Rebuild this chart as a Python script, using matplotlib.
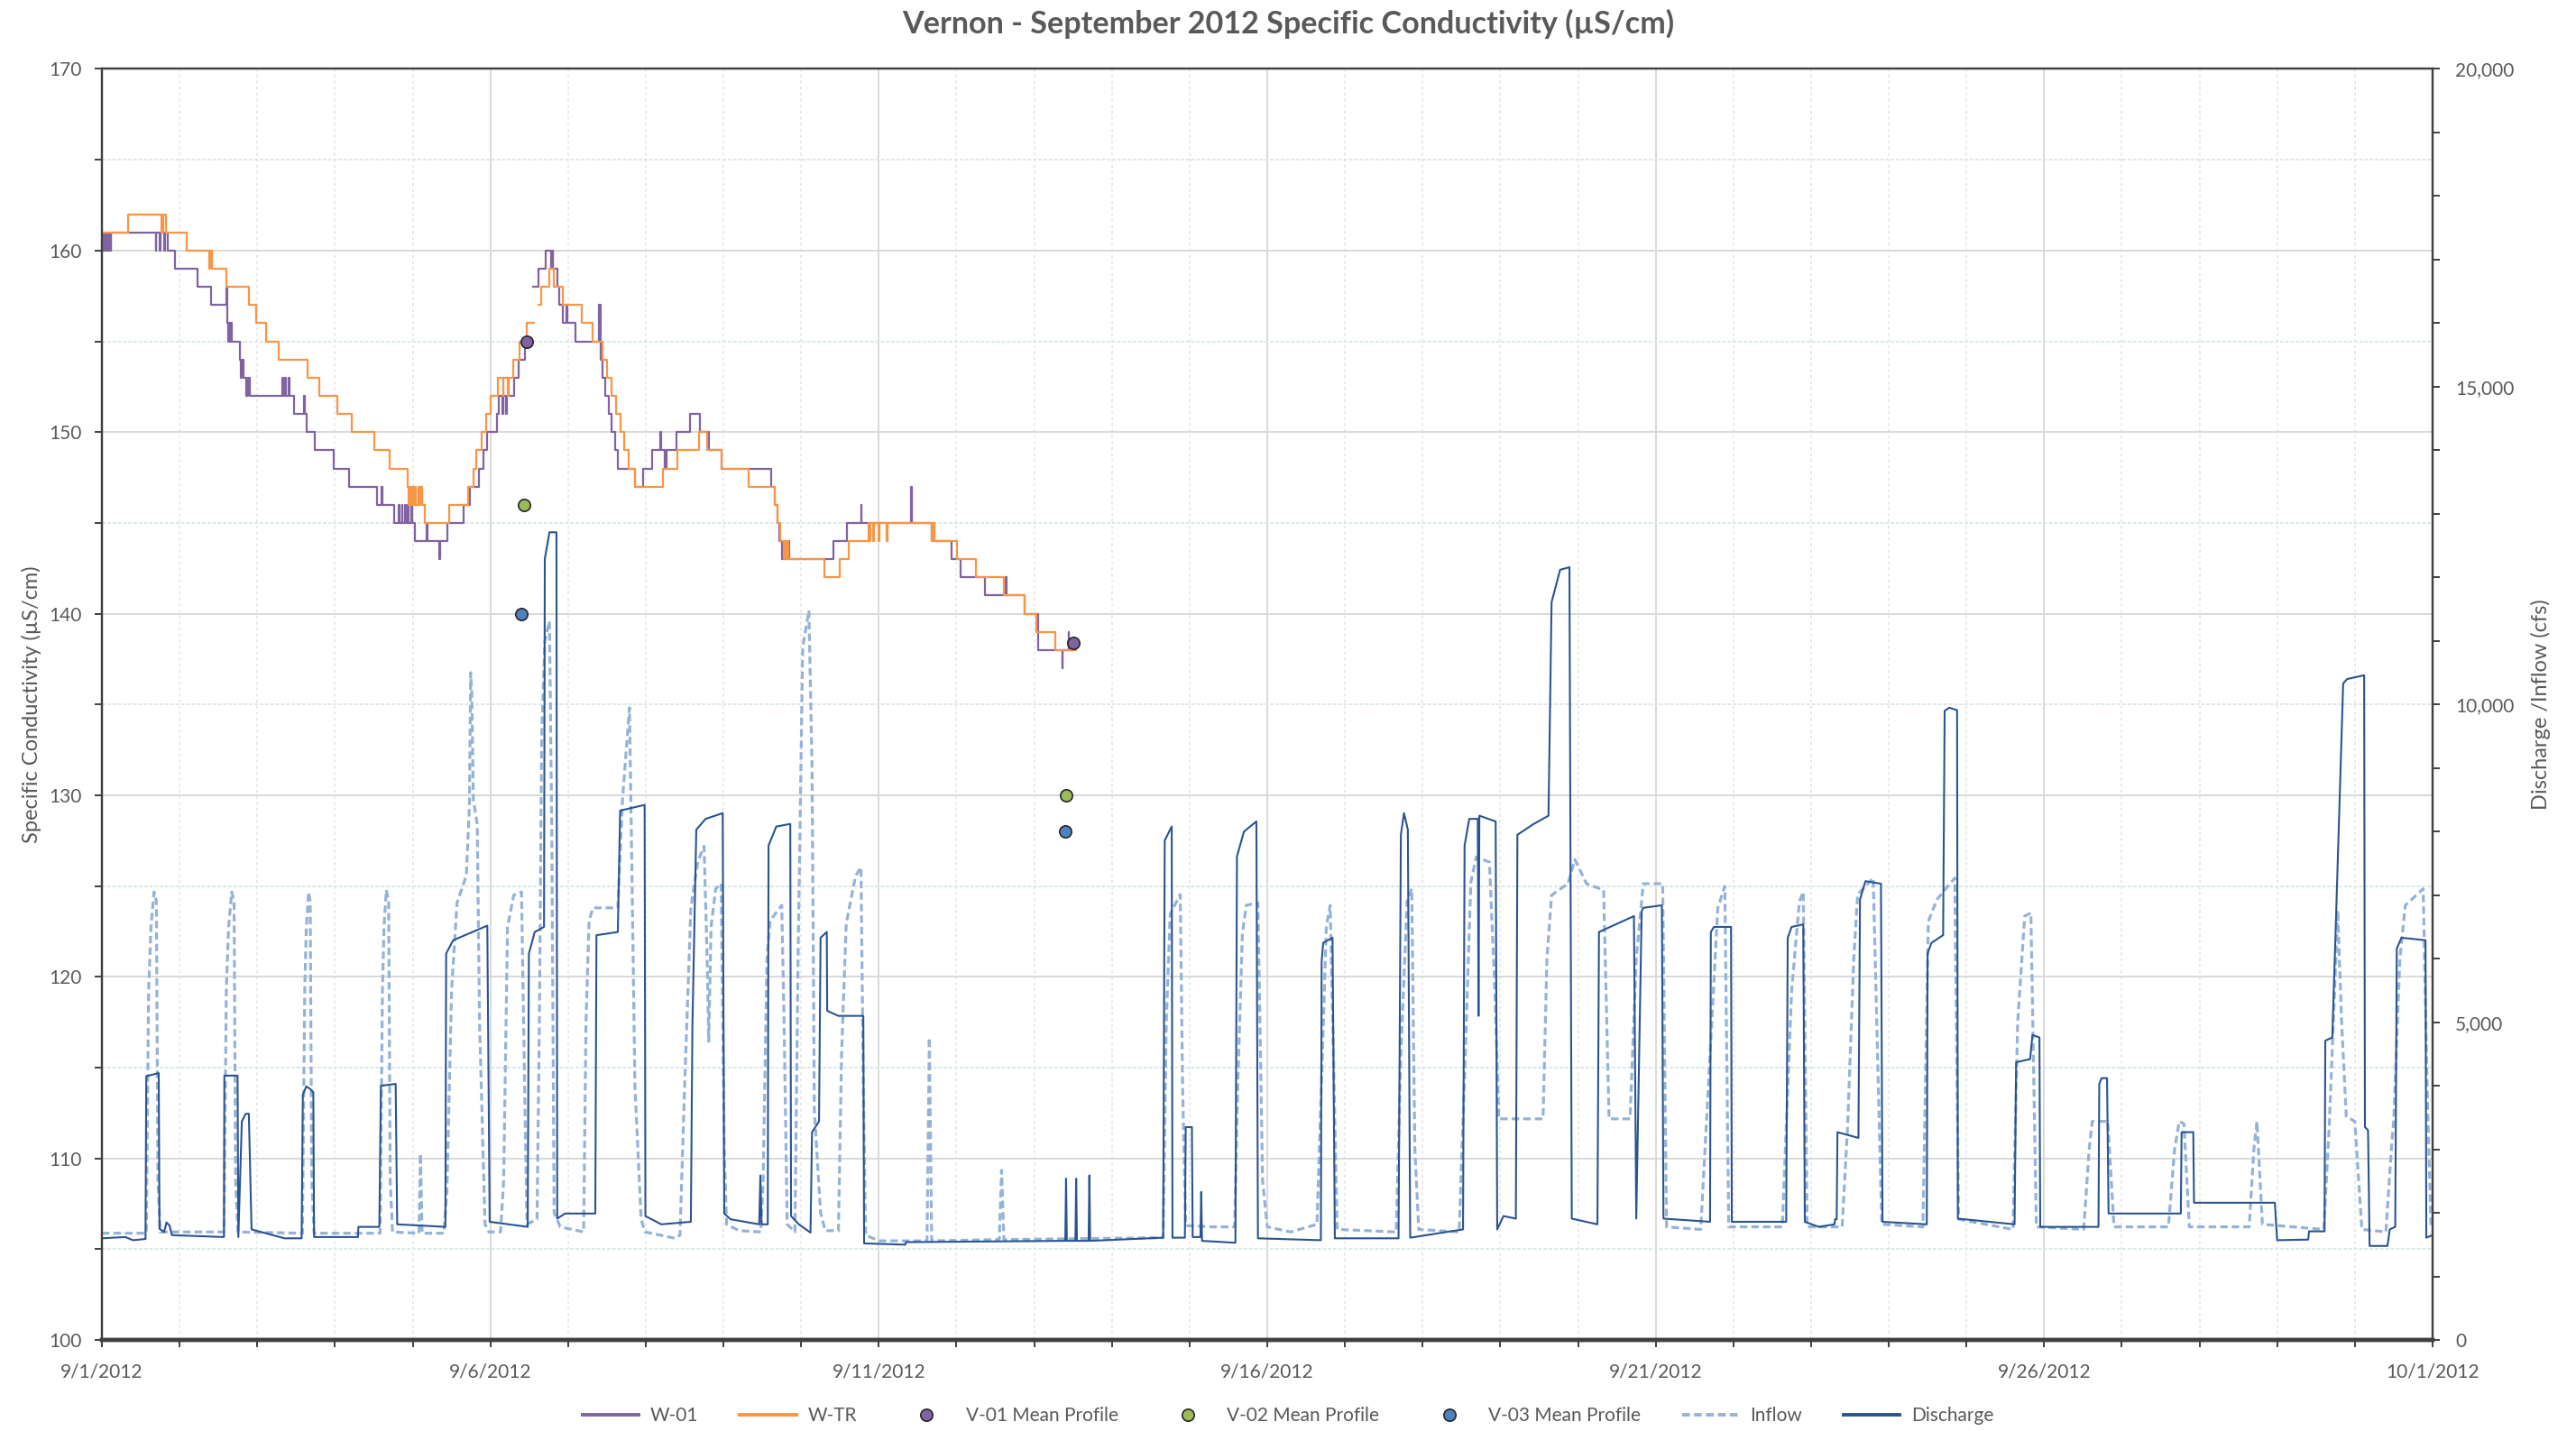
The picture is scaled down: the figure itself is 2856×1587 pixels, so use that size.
import numpy as np
import pandas as pd
import matplotlib
matplotlib.use("Agg")
import matplotlib.pyplot as plt
from matplotlib.ticker import MultipleLocator, FuncFormatter
from matplotlib.lines import Line2D

plt.rcParams['font.family'] = ['Lato', 'DejaVu Sans']

START = pd.Timestamp("2012-09-01")
TITLE = "Vernon - September 2012 Specific Conductivity (\u00b5S/cm)"

# conductivity (uS/cm), step series: day offset from 9/1 -> value from that time on
W01_T = [0.00, 0.01, 0.02, 0.03, 0.04, 0.05, 0.06, 0.07, 0.08, 0.09, 0.10, 0.11, 0.12,
         0.69, 0.70, 0.74, 0.75, 0.80, 0.81, 0.85, 0.94, 1.23, 1.40, 1.60, 1.61, 1.63,
         1.64, 1.65, 1.66, 1.67, 1.78, 1.79, 1.80, 1.82, 1.86, 1.88, 1.90, 2.32, 2.33,
         2.36, 2.37, 2.40, 2.41, 2.47, 2.60, 2.61, 2.63, 2.74, 2.98, 3.18, 3.54, 3.60,
         3.61, 3.76, 3.82, 3.83, 3.86, 3.87, 3.90, 3.91, 3.94, 3.95, 3.98, 3.99, 4.03,
         4.18, 4.19, 4.34, 4.35, 4.45, 4.65, 4.74, 4.85, 4.91, 4.96, 5.09, 5.11, 5.15,
         5.16, 5.20, 5.21, 5.31, 5.36, 5.45, 5.49, 5.55, 5.62, 5.71, 5.78, 5.80, 5.81,
         5.86, 5.89, 5.93, 5.98, 5.99, 6.09, 6.40, 6.42, 6.44, 6.48, 6.52, 6.56, 6.60,
         6.64, 6.86, 6.97, 7.08, 7.19, 7.20, 7.24, 7.27, 7.39, 7.57, 7.70, 7.81, 7.97,
         8.61, 8.66, 8.70, 8.72, 8.75, 8.80, 8.81, 8.84, 8.85, 9.41, 9.59, 9.77, 9.78,
         10.41, 10.42, 10.68, 10.70, 10.71, 10.94, 11.05, 11.36, 11.63, 11.64, 11.88,
         12.05, 12.36, 12.37, 12.44, 12.45, 12.50]
W01_V = [161, 160, 161, 160, 161, 160, 161, 160, 161, 160, 161, 160, 161,
         160, 161, 160, 161, 160, 161, 160, 159, 158, 157, 158, 156, 155,
         156, 155, 156, 155, 154, 153, 154, 153, 152, 153, 152, 153, 152,
         153, 152, 153, 152, 151, 152, 151, 150, 149, 148, 147, 146, 147,
         146, 145, 146, 145, 146, 145, 146, 145, 146, 145, 146, 145, 144,
         145, 144, 143, 144, 145, 146, 147, 148, 149, 150, 151, 152, 151,
         152, 151, 152, 153, 154, 155, np.nan, 158, 159, 160, 159, 160, 159,
         158, 157, 156, 157, 156, 155, 157, 154, 153, 152, 151, 150, 149,
         148, 147, 148, 149, 150, 149, 148, 149, 150, 151, 150, 149, 148,
         147, 146, 145, 144, 143, 144, 143, 144, 143, 144, 145, 146, 145,
         147, 145, 144, 145, 144, 143, 142, 141, 142, 141, 140,
         138, 137, 138, 139, 138, 138]

WTR_T = [0.00, 0.34, 0.76, 0.79, 0.82, 1.09, 1.38, 1.39, 1.40, 1.41, 1.42, 1.60, 1.89,
         1.99, 2.11, 2.27, 2.65, 2.80, 3.03, 3.21, 3.51, 3.70, 3.94, 3.95, 3.97, 3.98,
         4.00, 4.01, 4.03, 4.04, 4.07, 4.08, 4.10, 4.12, 4.16, 4.47, 4.71, 4.78, 4.82,
         4.89, 4.94, 5.00, 5.10, 5.16, 5.17, 5.22, 5.23, 5.29, 5.38, 5.47, 5.56, 5.62,
         5.65, 5.76, 5.82, 5.93, 6.18, 6.32, 6.44, 6.50, 6.56, 6.62, 6.67, 6.72, 6.78,
         6.86, 7.22, 7.41, 7.68, 7.79, 7.97, 8.32, 8.66, 8.70, 8.73, 8.78, 8.80, 8.81,
         8.83, 8.84, 9.30, 9.50, 9.61, 9.87, 9.88, 9.89, 9.93, 9.94, 10.00, 10.01,
         10.10, 10.11, 10.68, 10.69, 10.71, 11.01, 11.25, 11.61, 11.88, 12.03, 12.27,
         12.54]
WTR_V = [161, 162, 161, 162, 161, 160, 159, 160, 159, 160, 159, 158, 157,
         156, 155, 154, 153, 152, 151, 150, 149, 148, 147, 146, 147, 146,
         147, 146, 147, 146, 147, 146, 147, 146, 145, 146, 147, 148, 149,
         150, 151, 152, 153, 152, 153, 152, 153, 154, 155, 156, np.nan, 157,
         158, 159, 158, 157, 156, 155, 154, 153, 152, 151, 150, 149, 148,
         147, 148, 149, 150, 149, 148, 147, 146, 145, 144, 143, 144, 143,
         144, 143, 142, 143, 144, 145, 144, 145, 144, 145, 144, 145,
         144, 145, 144, 145, 144, 143, 142, 141, 140, 139, 138,
         138]

# mean profile points (day, uS/cm)
V01_T, V01_V = [5.47, 12.50], [155, 138.4]
V02_T, V02_V = [5.43, 12.41], [146, 130]
V03_T, V03_V = [5.40, 12.40], [140, 128]

# flows (cfs)
DISCHARGE_T = [0.00, 0.30, 0.40, 0.56, 0.57, 0.73, 0.74, 0.80, 0.83, 0.87, 0.90, 1.57, 1.575,
               1.745, 1.755, 1.80, 1.85, 1.89, 1.925, 2.20, 2.35, 2.57, 2.585, 2.63, 2.68,
               2.72, 2.73, 3.295, 3.30, 3.57, 3.59, 3.78, 3.80, 4.42, 4.43, 4.52, 4.96, 4.99,
               5.48, 5.495, 5.57, 5.69, 5.70, 5.76, 5.85, 5.86, 5.96, 6.35, 6.365, 6.64,
               6.67, 6.985, 6.995, 7.20, 7.58, 7.60, 7.65, 7.77, 7.99, 8.01, 8.09, 8.46,
               8.475, 8.49, 8.57, 8.58, 8.68, 8.86, 8.87, 8.97, 9.12, 9.14, 9.23, 9.25,
               9.33, 9.335, 9.48, 9.80, 9.81, 10.34, 10.35, 12.40, 12.41, 12.42, 12.53,
               12.54, 12.55, 12.70, 12.71, 12.72, 13.66, 13.68, 13.77, 13.78, 13.94, 13.95,
               14.03, 14.04, 14.14, 14.15, 14.16, 14.59, 14.61, 14.70, 14.86, 14.88, 15.69,
               15.70, 15.72, 15.84, 15.87, 16.69, 16.72, 16.76, 16.81, 16.84, 17.52, 17.54,
               17.60, 17.71, 17.72, 17.73, 17.94, 17.96, 18.04, 18.20, 18.22, 18.43, 18.62,
               18.66, 18.77, 18.89, 18.92, 19.25, 19.27, 19.72, 19.75, 19.82, 19.84, 20.08,
               20.10, 20.70, 20.71, 20.75, 20.97, 20.98, 21.68, 21.70, 21.75, 21.90, 21.92,
               22.10, 22.30, 22.31, 22.33, 22.34, 22.61, 22.63, 22.70, 22.90, 22.92, 23.49,
               23.50, 23.55, 23.70, 23.72, 23.78, 23.88, 23.89, 24.62, 24.64, 24.82, 24.85,
               24.94, 24.95, 25.70, 25.71, 25.74, 25.81, 25.83, 26.76, 26.77, 26.92, 26.93,
               27.97, 28.00, 28.40, 28.41, 28.61, 28.62, 28.71, 28.75, 28.85, 28.90, 29.12,
               29.13, 29.17, 29.19, 29.42, 29.45, 29.52, 29.54, 29.60, 29.91, 29.92, 30.00]
DISCHARGE_Q = [1600, 1620, 1570, 1590, 4150, 4200, 1750, 1700, 1850, 1800, 1650, 1620, 4160,
               4160, 1620, 3440, 3560, 3560, 1740, 1650, 1600, 1600, 3860, 3990, 3950,
               3900, 1620, 1620, 1780, 1780, 4000, 4030, 1820, 1780, 6080, 6290, 6520, 1860,
               1780, 6080, 6420, 6500, 12290, 12710, 12710, 1910, 1990, 1990, 6370, 6420,
               8330, 8420, 1950, 1820, 1860, 4930, 8030, 8200, 8290, 1990, 1900, 1820,
               2590, 1820, 1820, 7780, 8080, 8120, 1950, 1820, 1690, 3270, 3440, 6330,
               6420, 5180, 5100, 5100, 1520, 1500, 1540, 1560, 2540, 1560, 1560,
               2540, 1560, 1560, 2590, 1560, 1610, 7860, 8080, 1610, 1610, 3350,
               3350, 1620, 1620, 2330, 1560, 1530, 7610, 8000, 8160, 1600, 1570,
               5950, 6250, 6330, 1600, 1600, 7950, 8290, 8030, 1610, 1740, 7780,
               8200, 8200, 5100, 8250, 8160, 1740, 1950, 1910, 7950, 8120, 8250,
               11610, 12120, 12160, 1910, 1820, 6420, 6670, 1910, 6750, 6800, 6840,
               1910, 1860, 6420, 6500, 6500, 1860, 1860, 6330, 6500, 6540, 1860,
               1780, 1820, 1900, 1900, 3270, 3180, 6930, 7220, 7180, 1860, 1820,
               6080, 6250, 6370, 9900, 9950, 9910, 1910, 1820, 4370, 4420, 4800,
               4760, 1780, 1780, 4030, 4120, 4120, 1990, 1990, 3270, 3270, 2160,
               2160, 1570, 1580, 1710, 1710, 4710, 4760, 6330, 10330, 10400, 10460,
               3350, 3300, 1480, 1480, 1740, 1780, 6160, 6330, 6290, 1610, 1650]

INFLOW_T = [0.00, 0.57, 0.60, 0.63, 0.67, 0.70, 0.72, 0.75, 1.57, 1.60, 1.63, 1.67, 1.70,
            1.72, 1.75, 2.58, 2.61, 2.63, 2.66, 2.68, 2.70, 2.73, 3.58, 3.61, 3.63, 3.66,
            3.69, 3.71, 3.74, 4.08, 4.10, 4.12, 4.40, 4.44, 4.50, 4.57, 4.69, 4.73, 4.745,
            4.76, 4.78, 4.83, 4.86, 4.93, 4.98, 5.13, 5.17, 5.22, 5.30, 5.40, 5.44, 5.47,
            5.60, 5.63, 5.66, 5.70, 5.76, 5.79, 5.82, 5.90, 6.20, 6.23, 6.27, 6.32, 6.64,
            6.70, 6.79, 6.82, 6.86, 6.94, 6.99, 7.38, 7.44, 7.50, 7.58, 7.67, 7.75, 7.79,
            7.81, 7.84, 7.90, 7.97, 8.01, 8.04, 8.20, 8.48, 8.51, 8.56, 8.60, 8.75, 8.78,
            8.82, 8.92, 8.96, 9.02, 9.10, 9.14, 9.17, 9.25, 9.31, 9.48, 9.52, 9.58, 9.70,
            9.77, 9.80, 9.83, 10.00, 10.62, 10.65, 10.68, 11.55, 11.58, 11.61, 13.66,
            13.70, 13.75, 13.88, 13.91, 13.95, 14.30, 14.58, 14.62, 14.68, 14.73, 14.88,
            14.94, 15.00, 15.30, 15.64, 15.71, 15.76, 15.81, 15.86, 15.90, 16.66, 16.72,
            16.80, 16.86, 16.90, 16.95, 17.47, 17.55, 17.62, 17.69, 17.86, 17.93, 17.98,
            18.55, 18.60, 18.66, 18.87, 18.96, 19.11, 19.33, 19.40, 19.67, 19.75, 19.84,
            20.09, 20.14, 20.58, 20.70, 20.80, 20.89, 20.94, 21.63, 21.75, 21.85, 21.90,
            21.95, 22.40, 22.47, 22.55, 22.60, 22.80, 22.91, 23.44, 23.51, 23.62, 23.85,
            23.90, 24.60, 24.66, 24.75, 24.83, 24.90, 25.51, 25.58, 25.62, 25.82, 25.90,
            26.60, 26.68, 26.74, 26.80, 26.87, 27.64, 27.70, 27.74, 27.81, 28.60, 28.67,
            28.78, 28.83, 28.89, 29.00, 29.09, 29.40, 29.47, 29.50, 29.58, 29.65, 29.88,
            29.93, 29.98, 30.00]
INFLOW_Q = [1680, 1680, 5500, 6500, 7050, 6900, 2500, 1700, 1700, 5500, 6500, 7050, 6900,
            2500, 1700, 1680, 5500, 6500, 7050, 6900, 2500, 1680, 1680, 5500, 6500, 7080,
            6900, 2500, 1700, 1680, 2930, 1680, 1680, 2330, 5500, 6880, 7310, 8420, 10500,
            10200, 8500, 8120, 5000, 1820, 1700, 1700, 2500, 6500, 7000, 7050, 4000, 1820,
            1900, 5000, 9500, 11000, 11310, 8000, 2000, 1780, 1700, 5000, 6600, 6800, 6800,
            8500, 9950, 7500, 4000, 1900, 1700, 1600, 1650, 4000, 6800, 7530, 7770, 6000,
            4700, 6500, 7100, 7180, 3000, 1820, 1720, 1700, 2500, 6000, 6600, 6840, 5000,
            1820, 1700, 6000, 10900, 11480, 9000, 3600, 2000, 1720, 1720, 4500, 6550, 7300,
            7440, 4000, 1650, 1560, 1560, 4760, 1560, 1580, 2670, 1580, 1610,
            5000, 6700, 7010, 4000, 1800, 1780, 1780, 4000, 6400, 6840, 6880,
            2500, 1780, 1700, 1820, 4500, 6500, 6840, 4000, 1740, 1700, 4500,
            6900, 7100, 3000, 1740, 1700, 4500, 7200, 7600, 7520, 5500, 3480,
            3480, 6000, 7000, 7180, 7560, 7180, 7080, 3480, 3480, 6000, 7180,
            7180, 1780, 1740, 4500, 6800, 7140, 1780, 1780, 5500, 6900, 7050,
            1780, 1780, 3350, 6000, 7010, 7270, 1820, 1780, 6590, 6930, 7270,
            1900, 1740, 5000, 6670, 6720, 1780, 1740, 3000, 3440, 3440, 1780,
            1780, 3000, 3440, 3400, 1780, 1780, 3000, 3440, 1820, 1740, 3350,
            6760, 5000, 3520, 3440, 1740, 1700, 3000, 3440, 6000, 6840, 7100,
            4000, 1820, 1800]

PURPLE = "#8064A2"
ORANGE = "#F79646"
GREEN = "#9BBB59"
BLUE = "#4F81BD"
INFLOW_C = "#95B3D7"
DISCHARGE_C = "#2A5490"
TEXT_C = "#595959"
AXIS_C = "#404040"


def date_label(x, pos):
    d = START + pd.Timedelta(days=float(x))
    return f"{d.month}/{d.day}/{d.year}"


fig = plt.figure(figsize=(14.28, 7.935), dpi=200)
ax = fig.add_axes([0.0396, 0.0636, 0.9047, 0.8882])
ax2 = ax.twinx()

ax.plot(W01_T, W01_V, drawstyle="steps-post", color=PURPLE, lw=0.8, zorder=3)
ax.plot(WTR_T, WTR_V, drawstyle="steps-post", color=ORANGE, lw=0.8, zorder=3)
for t, v, c in [(V01_T, V01_V, PURPLE), (V02_T, V02_V, GREEN), (V03_T, V03_V, BLUE)]:
    ax.plot(t, v, ls="none", marker="o", ms=4.8, mfc=c, mec="#262626", mew=0.6, zorder=5)

ax2.plot(INFLOW_T, INFLOW_Q, color=INFLOW_C, lw=1.15, ls=(0, (2.6, 1.4)))
ax2.plot(DISCHARGE_T, DISCHARGE_Q, color=DISCHARGE_C, lw=0.75)

ax.set_xlim(0, 30)
ax.set_ylim(100, 170)
ax2.set_ylim(0, 20000)

ax.xaxis.set_major_locator(MultipleLocator(5))
ax.xaxis.set_minor_locator(MultipleLocator(1))
ax.xaxis.set_major_formatter(FuncFormatter(date_label))
ax.yaxis.set_major_locator(MultipleLocator(10))
ax.yaxis.set_minor_locator(MultipleLocator(5))
ax2.yaxis.set_major_locator(MultipleLocator(5000))
ax2.yaxis.set_minor_locator(MultipleLocator(1000))
ax2.yaxis.set_major_formatter(FuncFormatter(lambda v, p: f"{v:,.0f}"))

ax.set_axisbelow(True)
ax.grid(which="major", color="#d9d9d9", lw=0.7)
ax.grid(which="minor", axis="x", color="#e6e6e6", lw=0.6, ls=(0, (2, 2)))
ax.grid(which="minor", axis="y", color="#dce8ea", lw=0.7, ls=(0, (2, 1)))

for a in (ax, ax2):
    a.tick_params(which="both", direction="out", length=3, width=0.7, color=AXIS_C,
                  labelsize=7.5, labelcolor=TEXT_C)
    for side in ("left", "right", "top"):
        a.spines[side].set_color(AXIS_C)
        a.spines[side].set_linewidth(0.8)
    a.spines["bottom"].set_color(AXIS_C)
    a.spines["bottom"].set_linewidth(1.6)
ax.tick_params(axis="y", pad=5)
ax.tick_params(axis="x", pad=6)
ax2.tick_params(axis="y", pad=6)

ax.set_ylabel("Specific Conductivity (\u00b5S/cm)", fontsize=8.5, color=TEXT_C)
ax.yaxis.set_label_coords(-0.026, 0.5)
ax2.set_ylabel("Discharge /Inflow (cfs)", fontsize=8.5, color=TEXT_C)
ax2.yaxis.set_label_coords(1.042, 0.5)

fig.text(0.5, 1 - 26 / 1587, TITLE, ha="center", va="center", fontsize=12.3,
         fontweight="bold", color=TEXT_C)

handles = [
    Line2D([], [], color=PURPLE, lw=1.4),
    Line2D([], [], color=ORANGE, lw=1.4),
    Line2D([], [], ls="none", marker="o", ms=4.8, mfc=PURPLE, mec="#262626", mew=0.6),
    Line2D([], [], ls="none", marker="o", ms=4.8, mfc=GREEN, mec="#262626", mew=0.6),
    Line2D([], [], ls="none", marker="o", ms=4.8, mfc=BLUE, mec="#262626", mew=0.6),
    Line2D([], [], color=INFLOW_C, lw=1.4, ls=(0, (2.2, 1.2))),
    Line2D([], [], color=DISCHARGE_C, lw=1.4),
]
labels = ["W-01", "W-TR", "V-01 Mean Profile", "V-02 Mean Profile", "V-03 Mean Profile",
          "Inflow", "Discharge"]
leg = fig.legend(handles, labels, loc="center", bbox_to_anchor=(0.5, 1 - 1570 / 1587),
                 ncol=7, frameon=False, fontsize=7.5, handlelength=3.0,
                 handletextpad=0.6, columnspacing=2.2)
for txt in leg.get_texts():
    txt.set_color(TEXT_C)

fig.savefig("out.png", dpi=200)
